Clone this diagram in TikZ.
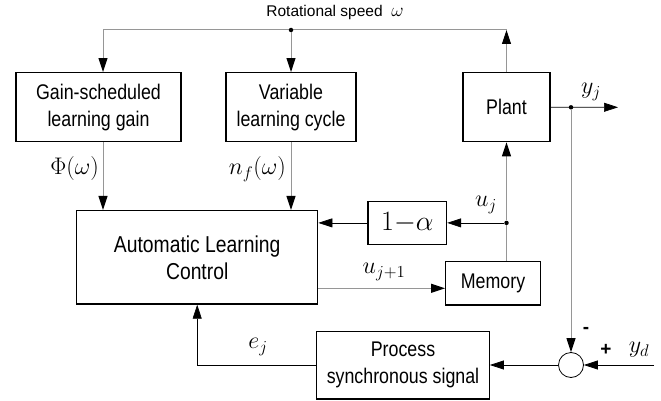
\documentclass[tikz,border=0pt]{standalone}
\usepackage{fix-cm}
\usepackage{fontspec}
\setmainfont{Liberation Sans}
\newfontfamily\boxfont[FakeStretch=0.84]{Liberation Sans}
\usepackage{tikz}
\usetikzlibrary{arrows.meta,positioning,calc}
\definecolor{linegray}{RGB}{150,150,150}
\tikzset{
  >={Triangle[length=14pt,width=9pt]},
  blk/.style={draw=black, line width=1.3pt, fill=white, align=center,
    inner sep=2pt, font=\boxfont\fontsize{21.2}{27}\selectfont},
  sig/.style={->, line width=0.7pt, draw=black},
  gsig/.style={-{Triangle[length=14pt,width=9pt,color=black]},
    line width=1pt, draw=linegray},
  gline/.style={line width=1pt, draw=linegray},
  lbl/.style={font=\fontsize{24}{26}\selectfont, inner sep=1pt},
  sgn/.style={font=\bfseries\fontsize{19}{20}\selectfont, inner sep=1pt},
  jdot/.style={circle, fill=black, inner sep=0pt, minimum size=4.5pt},
}
\begin{document}
\begin{tikzpicture}[x=1pt,y=-1pt]
\useasboundingbox (0,0) rectangle (661,401);

% ---------- blocks ----------
\node[blk, minimum width=165pt, minimum height=69pt] (gain) at (98.5,107.2) {Gain-scheduled\\learning gain};
\node[blk, minimum width=130pt, minimum height=69pt] (var)  at (291,107.2) {Variable\\learning cycle};
\node[blk, minimum width=87pt,  minimum height=69pt] (plant) at (506.5,107.2) {Plant};
\node[blk, minimum width=241pt, minimum height=93.5pt,
  font=\boxfont\fontsize{23}{27}\selectfont] (alc) at (197.2,257.3) {Automatic Learning\\Control};
\node[blk, minimum width=78.5pt, minimum height=42.5pt,
  font=\fontsize{28}{30}\selectfont] (one) at (407.3,222.9) {$1{-}\alpha$};
\node[blk, minimum width=94.5pt, minimum height=43.5pt] (mem) at (493,283.3) {Memory};
\node[blk, minimum width=172.5pt, minimum height=67.7pt] (proc) at (403,365) {Process\\synchronous signal};
\node[draw=black, line width=0.8pt, circle, minimum size=25pt, inner sep=0pt] (sum) at (571,365) {};

% ---------- rotational speed ----------
\coordinate (wl) at (103,30);
\node[font=\fontsize{15.5}{17}\selectfont, inner sep=1pt] (wtxt) at (335,12) {Rotational speed \ {\fontsize{19}{20}\selectfont$\omega$}};
\draw[gsig] (plant.north) -- (plant.north |- wl);
\draw[gline] (plant.north |- wl) -- (wl);
\draw[gsig] (wl) -- (wl |- gain.north);
\node[jdot] (wdot) at (var.north |- wl) {};
\draw[gsig] (wdot) -- (var.north);

% ---------- gains into ALC ----------
\draw[gsig] (wl |- gain.south) -- (wl |- alc.north);
\draw[gsig] (var.south) -- (var.south |- alc.north);
\node[lbl, anchor=east] (phil) at (100,169) {$\Phi(\omega)$};
\node[lbl, anchor=east] (nfl) at (287,169) {$n_f(\omega)$};

% ---------- input u_j ----------
\node[jdot] (ujdot) at (plant.south |- one.east) {};
\draw[gline] (plant.south |- mem.north) -- (ujdot);
\draw[gsig] (ujdot) -- (plant.south);
\draw[sig] (ujdot) -- (one.east);
\draw[sig] (one.west) -- (alc.east |- one.west);
\node[lbl] (ujl) at (486,205) {$u_j$};
\coordinate (uo) at (alc.east |- 0,288.3);
\draw[gsig] (uo) -- (uo -| mem.west);
\node[lbl] (unl) at (384,272) {$u_{j+1}$};

% ---------- output and feedback ----------
\coordinate (yout) at (618,107.3);
\draw[sig] (plant.east) -- (yout);
\node[jdot] (ydot) at (571,107.3) {};
\node[lbl] (yjl) at (591,92) {$y_j$};
\draw[gsig] (ydot) -- (sum.north);
\coordinate (ydin) at (654,365);
\draw[sig] (ydin) -- (sum.east);
\node[sgn] (minus) at (586,330) {-};
\node[sgn] (plus) at (606,350) {+};
\node[lbl] (ydl) at (639,350) {$y_d$};
\draw[sig] (sum.west) -- (proc.east);
\draw[sig] (proc.west) -| (alc.south);
\node[lbl] (ejl) at (258,347) {$e_j$};

\end{tikzpicture}
\end{document}
